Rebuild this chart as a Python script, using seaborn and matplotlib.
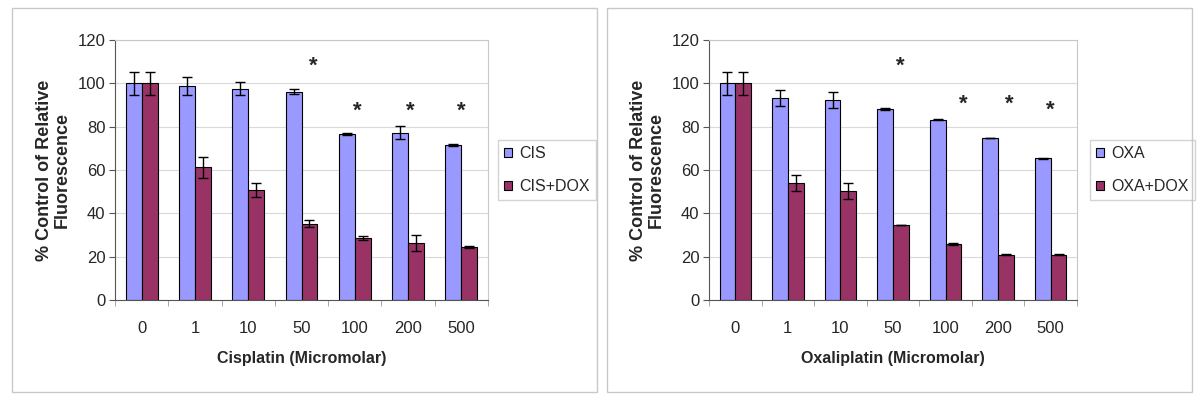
import numpy as np
import pandas as pd
import matplotlib
matplotlib.use("Agg")
import matplotlib.pyplot as plt
import seaborn as sns
from matplotlib.patches import Rectangle

# data
doses = ["0", "1", "10", "50", "100", "200", "500"]

cis = [100, 98.6, 97.4, 96.1, 76.5, 77.1, 71.5]
cis_err = [5.3, 4.2, 3.0, 1.2, 0.5, 3.0, 0.5]
cis_dox = [100, 61.2, 50.7, 35.3, 28.7, 26.3, 24.5]
cis_dox_err = [5.3, 5.0, 3.2, 1.5, 0.8, 3.7, 0.4]

oxa = [100, 93.1, 92.3, 88.1, 83.2, 74.7, 65.4]
oxa_err = [5.3, 3.7, 3.8, 0.3, 0.3, 0.1, 0.3]
oxa_dox = [100, 53.9, 50.1, 34.7, 25.7, 20.9, 20.9]
oxa_dox_err = [5.3, 3.6, 3.7, 0.1, 0.5, 0.3, 0.3]

# significance stars: dose, height, small sideways shift
cis_stars = ["50", "100", "200", "500"]
cis_star_y = [108, 87, 87, 87]
cis_star_dx = [0.23, 0.04, 0.05, 0.0]
oxa_stars = ["50", "100", "200", "500"]
oxa_star_y = [108, 90.5, 90.5, 87.5]
oxa_star_dx = [0.14, 0.33, 0.22, 0.0]

sns.set_style("white")
plt.rcParams['font.family'] = ['Liberation Sans', 'DejaVu Sans']

blue = "#9999FF"
plum = "#993366"

fig = plt.figure(figsize=(12, 4.03), dpi=100)

# panel borders
for x0 in [12 / 1200, 607 / 1200]:
    fig.add_artist(Rectangle((x0, 1 - 392 / 403), 585 / 1200, 384 / 403,
                             transform=fig.transFigure, fill=False,
                             edgecolor="#c8c8c8", linewidth=1))


def draw_panel(rect, name, a, a_err, b, b_err, xlabel, stars, star_y, star_dx, leg_x):
    ax = fig.add_axes(rect)
    df = pd.DataFrame({
        "dose": doses * 2,
        "value": a + b,
        "group": [name] * len(doses) + [name + "+DOX"] * len(doses),
    })
    sns.barplot(data=df, x="dose", y="value", hue="group", order=doses,
                palette=[blue, plum], width=0.6, errorbar=None,
                edgecolor="black", linewidth=0.8, saturation=1, ax=ax)

    # error bars at the centre of each drawn bar
    errs = a_err + b_err
    vals = a + b
    bars = [p for p in ax.patches if p.get_height() > 0][:len(vals)]
    xs = [p.get_x() + p.get_width() / 2 for p in bars]
    ax.errorbar(xs, vals, yerr=errs, fmt="none", ecolor="black",
                elinewidth=1, capsize=3.5, capthick=1, zorder=5)

    for d, yy, dx in zip(stars, star_y, star_dx):
        ax.text(doses.index(d) + dx, yy, "*", ha="center", va="center",
                fontsize=16, fontweight="bold")

    ax.set_ylim(0, 120)
    ax.set_xlim(-0.5, len(doses) - 0.5)
    ax.set_yticks(range(0, 121, 20))
    ax.yaxis.grid(True, color="#d9d9d9", linewidth=0.8)
    ax.set_axisbelow(True)
    ax.tick_params(axis="y", labelsize=12, length=4, direction="out",
                   left=True, color="#555555", pad=3)
    ax.set_xticks(range(len(doses)))
    ax.set_xticklabels(doses)
    ax.set_xticks(np.arange(-0.5, len(doses)), minor=True)
    ax.tick_params(axis="x", which="major", length=0, labelsize=12, pad=15)
    ax.tick_params(axis="x", which="minor", length=4, direction="out",
                   bottom=True, color="#999999")
    for s in ["top", "right"]:
        ax.spines[s].set_color("#c8c8c8")
    for s in ["left", "bottom"]:
        ax.spines[s].set_color("#555555")

    ax.set_xlabel(xlabel, fontsize=11.5, fontweight="bold", labelpad=11)
    ax.set_ylabel("% Control of Relative\nFluorescence", fontsize=13,
                  fontweight="bold", labelpad=5, linespacing=1.0)

    handles, labels = ax.get_legend_handles_labels()
    ax.legend(handles, labels, loc="upper left",
              bbox_to_anchor=(leg_x, 1 - 140 / 403),
              bbox_transform=fig.transFigure, frameon=True, fancybox=False,
              edgecolor="#c8c8c8", fontsize=11.5, handlelength=0.5,
              handleheight=0.5, handletextpad=0.4, labelspacing=1.1,
              borderpad=0.4, borderaxespad=0)
    return ax


draw_panel([115 / 1200, 1 - 300 / 403, 373 / 1200, 260 / 403], "CIS",
           cis, cis_err, cis_dox, cis_dox_err, "Cisplatin (Micromolar)",
           cis_stars, cis_star_y, cis_star_dx, 498 / 1200)
draw_panel([709 / 1200, 1 - 300 / 403, 368 / 1200, 260 / 403], "OXA",
           oxa, oxa_err, oxa_dox, oxa_dox_err, "Oxaliplatin (Micromolar)",
           oxa_stars, oxa_star_y, oxa_star_dx, 1090 / 1200)

fig.savefig("out.png", dpi=100)
